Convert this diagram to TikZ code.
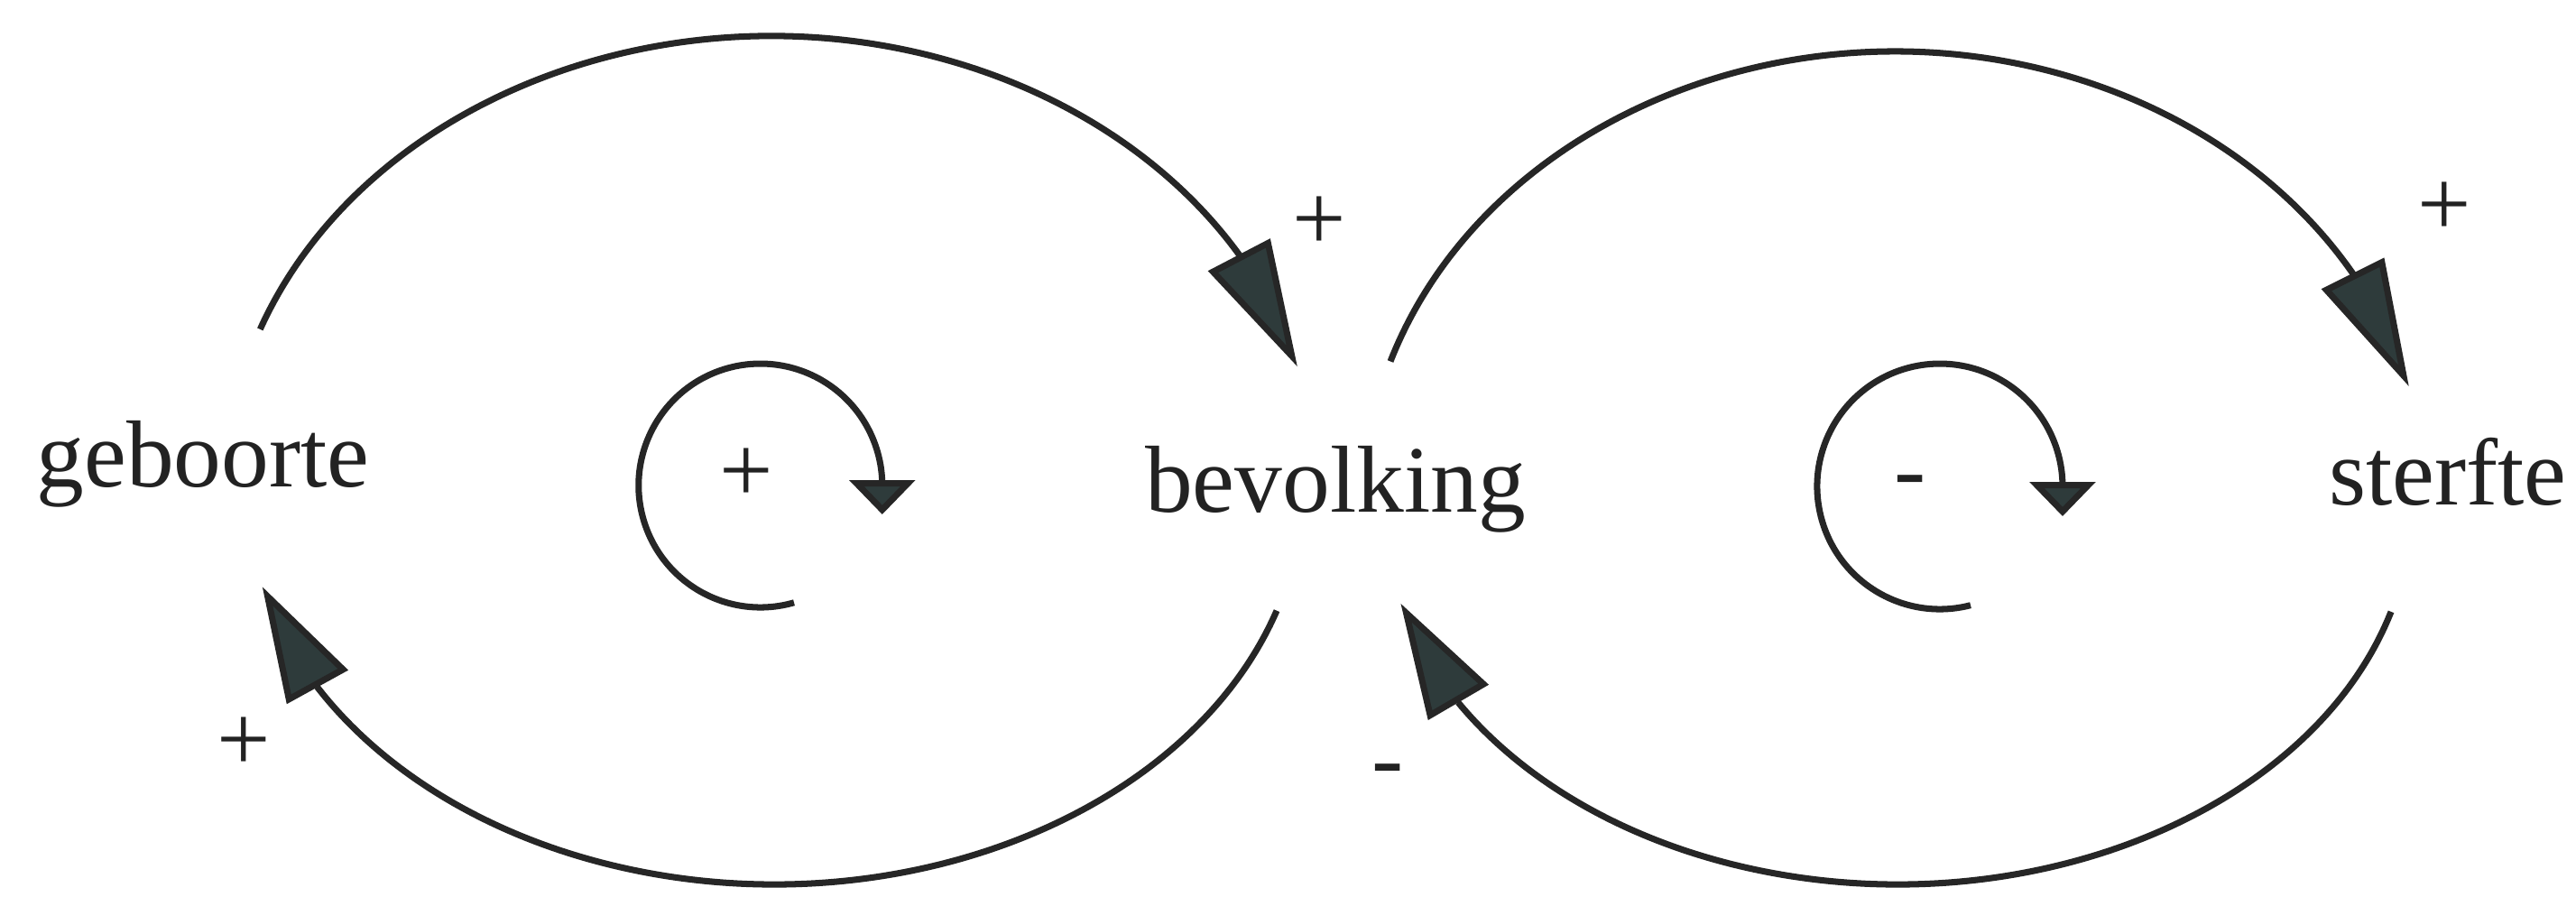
\documentclass[tikz,border=0pt]{standalone}
\usepackage{fontspec}
\setmainfont{Liberation Serif}
\usetikzlibrary{arrows.meta,bending}
\definecolor{linecol}{HTML}{262626}
\definecolor{tipfill}{HTML}{2E3B3B}
\definecolor{txtcol}{HTML}{222222}
\begin{document}
\begin{tikzpicture}[
  conn/.style={draw=linecol, line width=2pt},
  bigtip/.style={-{Triangle[length=1.4cm, width=0.76cm, fill=tipfill, flex]}},
  bigtipb/.style={-{Triangle[length=1.27cm, width=0.76cm, fill=tipfill, flex]}},
  smalltip/.style={-{Triangle[length=0.38cm, width=0.72cm, fill=tipfill]}},
  word/.style={font=\fontsize{30}{36}\selectfont, text=txtcol, inner sep=0pt, anchor=base},
  sign/.style={font=\fontsize{30}{36}\selectfont, text=txtcol, inner sep=0pt}
]
\useasboundingbox[fill=white] (0,0) rectangle (28.55,9.94);

% variables
\node[word] (geb) at (2.25,4.54) {geboorte};
\node[word] (bev) at (14.80,4.26) {bevolking};
\node[word] (ster) at (27.13,4.34) {sterfte};

% arc end coordinates
\coordinate (a1) at (2.883,6.291);
\coordinate (a2) at (15.41,5.935);
\coordinate (a3) at (14.15,3.173);
\coordinate (a4) at (26.50,3.161);
\coordinate (l1) at (8.80,3.262);
\coordinate (l2) at (21.84,3.233);

% big causal arcs
\draw[conn, bigtip] (a1) arc[start angle=159.5, end angle=15.5, x radius=6.05, y radius=5.00];
\draw[conn, bigtip] (a2) arc[start angle=161.5, end angle=15.2, x radius=5.90, y radius=5.03];
\draw[conn, bigtipb] (a3) arc[start angle=-18.1, end angle=-165.5, x radius=5.86, y radius=4.40];
\draw[conn, bigtipb] (a4) arc[start angle=-16.3, end angle=-165, x radius=5.70, y radius=4.20];

% loop markers
\draw[conn, smalltip] (l1) arc[start angle=286, end angle=0, radius=1.35] -- ++(0,-0.32);
\draw[conn, smalltip] (l2) arc[start angle=284.5, end angle=0, radius=1.36] -- ++(0,-0.33);

% polarity signs
\node[sign] (s1) at (14.62,7.46) {+};
\node[sign] (s2) at (27.09,7.62) {+};
\node[sign] (s3) at (2.70,1.69) {+};
\node[word] (s4) at (15.38,1.18) {-};
\node[sign] (r1) at (8.27,4.67) {+};
\node[word] (r2) at (21.17,4.38) {-};
\end{tikzpicture}
\end{document}
